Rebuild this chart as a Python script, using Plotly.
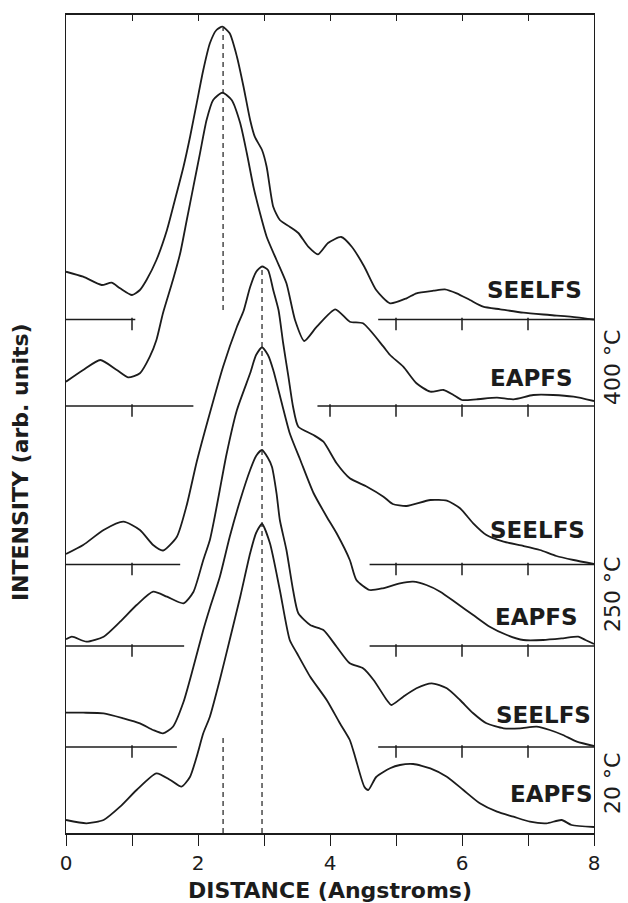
import plotly.graph_objects as go

# ---------------- data ----------------
# distance (Angstrom) and intensity above each curve's own baseline (arb. units)
r_400_seelfs = [0.00, 0.26, 0.54, 0.69, 0.82, 1.00, 1.12, 1.22, 1.37, 1.53, 1.65, 1.78, 1.88, 1.98,
                2.08, 2.18, 2.28, 2.37, 2.48, 2.59, 2.69, 2.79, 2.86, 2.97, 3.04, 3.14, 3.24, 3.39,
                3.52, 3.67, 3.82, 3.97, 4.17, 4.33, 4.52, 4.70, 4.91, 5.16, 5.31, 5.57, 5.74, 5.92,
                6.12, 6.32, 6.58, 6.93, 7.33, 7.74, 8.00]
i_400_seelfs = [4.78, 4.28, 3.45, 3.68, 3.12, 2.45, 2.95, 3.95, 5.95, 8.95, 11.95, 15.28, 18.28, 21.62,
                24.95, 27.62, 28.95, 29.28, 28.62, 26.28, 23.28, 19.95, 18.28, 16.95, 15.28, 11.28, 9.95, 9.28,
                8.65, 7.28, 6.52, 7.65, 8.25, 7.28, 5.28, 2.95, 1.62, 2.12, 2.62, 2.88, 3.02, 2.62,
                1.95, 1.28, 1.02, 0.68, 0.45, 0.22, 0.00]

r_400_eapfs = [0.00, 0.26, 0.52, 0.77, 0.94, 1.12, 1.27, 1.37, 1.47, 1.62, 1.73, 1.83, 1.93, 2.03,
               2.13, 2.23, 2.37, 2.51, 2.64, 2.74, 2.84, 2.94, 3.04, 3.19, 3.34, 3.47, 3.61, 3.80,
               4.08, 4.30, 4.50, 4.81, 4.91, 5.11, 5.31, 5.52, 5.72, 5.87, 6.00, 6.22, 6.53, 6.78,
               7.08, 7.38, 7.69, 8.00]
i_400_eapfs = [2.43, 3.60, 4.60, 3.60, 2.87, 3.27, 4.93, 6.60, 9.30, 12.60, 15.27, 18.60, 21.93, 25.27,
               28.60, 30.60, 31.33, 30.60, 28.27, 25.27, 21.93, 19.27, 16.93, 14.60, 12.27, 8.60, 6.50, 7.93,
               9.67, 8.43, 8.27, 5.93, 5.10, 3.93, 2.27, 1.43, 1.60, 1.10, 0.60, 0.67, 0.83, 0.67,
               1.10, 1.10, 0.93, 0.50]

r_250_seelfs = [0.00, 0.26, 0.57, 0.87, 1.12, 1.32, 1.47, 1.68, 1.83, 1.98, 2.18, 2.38, 2.59, 2.69,
                2.79, 2.88, 2.97, 3.06, 3.14, 3.22, 3.29, 3.37, 3.44, 3.52, 3.75, 3.90, 4.10, 4.30,
                4.56, 4.81, 4.95, 5.16, 5.52, 5.77, 5.97, 6.17, 6.37, 6.63, 6.93, 7.18, 7.43, 7.69, 8.00]
i_250_seelfs = [1.05, 1.95, 3.45, 4.28, 3.45, 1.95, 1.40, 2.78, 5.95, 10.25, 15.15, 19.78, 23.78, 25.35,
                27.75, 29.25, 29.80, 29.45, 27.45, 25.45, 22.15, 18.78, 15.78, 13.78, 12.95, 12.28, 10.12, 8.62,
                7.78, 6.78, 6.05, 5.85, 6.45, 6.38, 5.62, 4.12, 2.95, 2.28, 1.85, 1.45, 0.85, 0.45, 0.05]

r_250_eapfs = [0.00, 0.09, 0.31, 0.57, 0.82, 1.07, 1.32, 1.53, 1.78, 1.93, 2.08, 2.18, 2.25, 2.33,
               2.43, 2.59, 2.79, 2.88, 2.97, 3.06, 3.14, 3.27, 3.39, 3.55, 3.75, 3.95, 4.10, 4.30,
               4.40, 4.60, 4.80, 5.06, 5.26, 5.46, 5.67, 5.92, 6.17, 6.42, 6.68, 6.93, 7.23, 7.53,
               7.76, 7.87, 8.00]
i_250_eapfs = [0.67, 0.93, 0.43, 0.93, 2.43, 4.10, 5.43, 4.93, 4.27, 5.40, 8.60, 10.60, 12.80, 15.60,
               19.10, 23.60, 27.27, 29.10, 29.87, 29.10, 27.60, 24.27, 21.27, 18.60, 15.30, 12.93, 11.27, 8.60,
               6.60, 5.60, 5.77, 6.27, 6.43, 6.10, 5.43, 4.27, 3.10, 1.93, 1.10, 0.60, 0.60, 0.77,
               0.93, 0.60, 0.20]

r_20_seelfs = [0.00, 0.26, 0.57, 0.87, 1.12, 1.32, 1.47, 1.62, 1.78, 1.93, 2.08, 2.18, 2.33, 2.48,
               2.64, 2.79, 2.88, 2.97, 3.06, 3.12, 3.19, 3.24, 3.34, 3.44, 3.52, 3.70, 3.90, 4.10,
               4.30, 4.50, 4.66, 4.86, 4.93, 5.11, 5.31, 5.54, 5.77, 5.97, 6.17, 6.37, 6.63, 6.88,
               7.13, 7.33, 7.53, 7.74, 8.00]
i_20_seelfs = [3.43, 3.43, 3.37, 2.87, 2.37, 1.70, 1.37, 2.03, 4.50, 8.00, 11.70, 13.90, 17.00, 21.00,
               24.70, 27.70, 29.10, 29.70, 28.90, 28.03, 25.37, 22.70, 19.70, 15.70, 13.37, 12.20, 11.70, 10.03,
               8.37, 7.87, 6.70, 4.70, 4.20, 5.03, 5.87, 6.37, 5.87, 4.70, 3.37, 2.37, 1.87, 1.87,
               2.03, 1.70, 1.20, 0.53, 0.10]

r_20_eapfs = [0.00, 0.31, 0.57, 0.82, 1.07, 1.37, 1.58, 1.75, 1.88, 1.98, 2.08, 2.18, 2.33, 2.48,
              2.64, 2.79, 2.88, 2.97, 3.09, 3.24, 3.39, 3.50, 3.70, 3.95, 4.15, 4.30, 4.38, 4.52,
              4.58, 4.70, 4.91, 5.06, 5.26, 5.52, 5.77, 6.02, 6.27, 6.53, 6.78, 7.03, 7.28, 7.51,
              7.66, 8.00]
i_20_eapfs = [1.30, 0.97, 1.30, 2.63, 4.30, 5.97, 5.30, 4.63, 5.63, 7.63, 9.97, 11.63, 15.30, 19.30,
              23.63, 27.97, 30.00, 30.90, 28.97, 24.30, 19.30, 17.97, 15.63, 13.30, 10.97, 9.30, 7.63, 4.63,
              4.30, 5.60, 6.47, 6.80, 6.90, 6.47, 5.63, 4.30, 2.97, 2.13, 1.63, 1.13, 0.97, 1.30,
              0.80, 0.60]

spectrum_labels = ["SEELFS", "EAPFS", "SEELFS", "EAPFS", "SEELFS", "EAPFS"]
temperatures = ["400 °C", "250 °C", "20 °C"]
# vertical offset of each curve's baseline (arb. units)
baseline_offsets = [51.35, 42.70, 26.85, 18.70, 8.60, 0.00]
# distance ranges over which each baseline is drawn
baseline_segments = [
    [(0.0, 1.05), (4.73, 8.0)],
    [(0.0, 1.93), (3.81, 8.0)],
    [(0.0, 1.73), (4.60, 8.0)],
    [(0.0, 1.79), (4.60, 8.0)],
    [(0.0, 1.68), (4.73, 8.0)],
    [],
]
# dashed markers of nearest-neighbour distances: (position, [(y_from, y_to), ...])
peak_markers = [
    (2.38, [(52.3, 80.5), (0.0, 9.8)]),
    (2.97, [(0.0, 56.5)]),
]
x_tick_values = [0, 1, 2, 3, 4, 5, 6, 7, 8]
x_tick_text = ["0", "", "2", "", "4", "", "6", "", "8"]

curves_r = [r_400_seelfs, r_400_eapfs, r_250_seelfs, r_250_eapfs, r_20_seelfs, r_20_eapfs]
curves_i = [i_400_seelfs, i_400_eapfs, i_250_seelfs, i_250_eapfs, i_20_seelfs, i_20_eapfs]

# ---------------- styling ----------------
INK = "#1c1c1c"
FONT = "DejaVu Sans"
Y_MAX = 81.8
PLOT_H_PX = 818          # height of the plotting area in pixels
TICK_PX = 9              # baseline tick length in pixels
TICK_SHIFT = TICK_PX / 2 * Y_MAX / PLOT_H_PX   # half a tick, in axis units

fig = go.Figure()

# baselines
for off, segs in zip(baseline_offsets, baseline_segments):
    bx, by = [], []
    tx, ty = [], []
    for a, b in segs:
        bx += [a, b, None]
        by += [off, off, None]
        for k in x_tick_values[1:-1]:
            if a < k < b:
                tx.append(k)
                ty.append(off - TICK_SHIFT)
    if bx:
        fig.add_trace(go.Scatter(x=bx, y=by, mode="lines", line=dict(color=INK, width=1.4),
                                 hoverinfo="skip", showlegend=False))
        # downward ticks: a vertical-line marker hanging below the baseline
        fig.add_trace(go.Scatter(x=tx, y=ty, mode="markers",
                                 marker=dict(symbol="line-ns", size=TICK_PX,
                                             line=dict(color=INK, width=1.5)),
                                 hoverinfo="skip", showlegend=False))

# dashed vertical markers
for pos, spans in peak_markers:
    mx, my = [], []
    for y0, y1 in spans:
        mx += [pos, pos, None]
        my += [y0, y1, None]
    fig.add_trace(go.Scatter(x=mx, y=my, mode="lines",
                             line=dict(color=INK, width=1.2, dash="5px,4px"),
                             hoverinfo="skip", showlegend=False))

# spectra
for r, inten, off in zip(curves_r, curves_i, baseline_offsets):
    fig.add_trace(go.Scatter(x=r, y=[v + off for v in inten], mode="lines",
                             line=dict(color=INK, width=1.8, shape="spline", smoothing=0.6),
                             showlegend=False))

annotations = []
label_pos = [(7.10, 54.3), (7.06, 45.5), (7.15, 30.3), (7.13, 21.6), (7.24, 11.8), (7.35, 3.9)]
for text, (lx, ly) in zip(spectrum_labels, label_pos):
    annotations.append(dict(x=lx, y=ly, xref="x", yref="y", text=text, showarrow=False,
                            font=dict(family=FONT, size=23, color=INK, weight="bold"),
                            xanchor="center", yanchor="middle"))
temp_pos = [46.6, 23.9, 5.0]
for text, ty in zip(temperatures, temp_pos):
    annotations.append(dict(x=1.034, y=ty, xref="paper", yref="y", text=text, showarrow=False,
                            textangle=-90, font=dict(family=FONT, size=22, color=INK),
                            xanchor="center", yanchor="middle"))
annotations.append(dict(x=-0.087, y=37.1, xref="paper", yref="y", text="INTENSITY (arb. units)",
                        showarrow=False, textangle=-90,
                        font=dict(family=FONT, size=22, color=INK, weight="bold"),
                        xanchor="center", yanchor="middle"))
annotations.append(dict(x=0.5, y=-0.07, xref="paper", yref="paper", text="DISTANCE (Angstroms)",
                        showarrow=False, font=dict(family=FONT, size=22, color=INK, weight="bold"),
                        xanchor="center", yanchor="middle"))

fig.update_layout(
    width=628, height=903,
    margin=dict(l=66, r=34, t=15, b=70),
    paper_bgcolor="white", plot_bgcolor="white",
    showlegend=False,
    # top axis: short inward ticks; its line is mirrored to close the frame at the bottom
    xaxis=dict(range=[0, 8], side="top", tickvals=x_tick_values[1:-1],
               ticks="inside", ticklen=6, tickwidth=1.3, tickcolor=INK,
               showticklabels=False,
               showline=True, linecolor=INK, linewidth=1.5, mirror=True,
               showgrid=False, zeroline=False),
    # bottom axis with outward ticks and labels
    xaxis2=dict(range=[0, 8], overlaying="x", side="bottom", anchor="y",
                tickvals=x_tick_values, ticktext=x_tick_text,
                ticks="outside", ticklen=12, tickwidth=1.4, tickcolor=INK,
                showline=False, showgrid=False, zeroline=False,
                tickfont=dict(family=FONT, size=20, color=INK)),
    yaxis=dict(range=[0, Y_MAX], showticklabels=False, ticks="",
               showline=True, linecolor=INK, linewidth=1.3, mirror=True,
               showgrid=False, zeroline=False),
    annotations=annotations,
)
# a trace on the bottom axis so that it is drawn
fig.add_trace(go.Scatter(x=[0, 8], y=[None, None], xaxis="x2", yaxis="y", mode="lines",
                         showlegend=False, hoverinfo="skip"))

fig.write_html("out.html")
